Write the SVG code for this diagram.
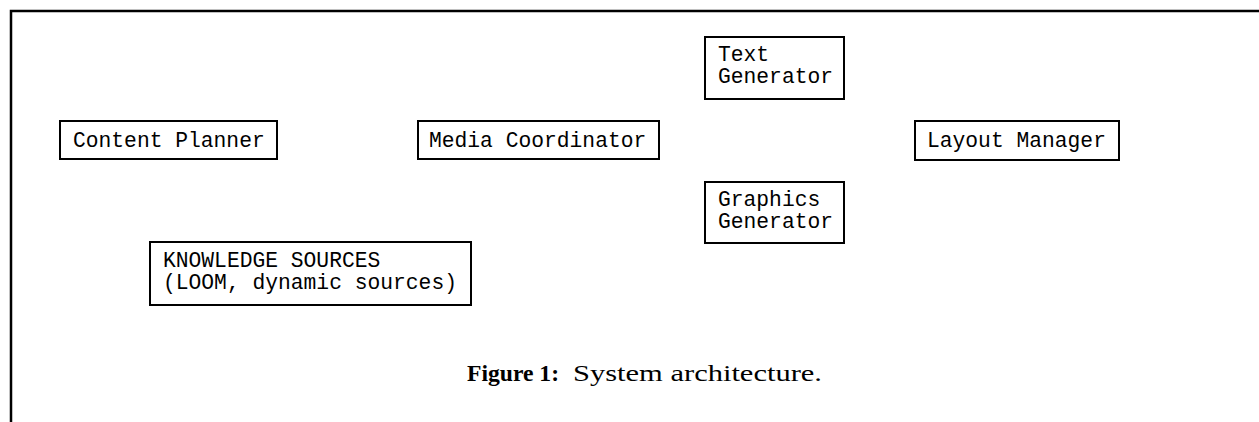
<svg xmlns="http://www.w3.org/2000/svg" width="1259" height="422" viewBox="0 0 1259 422">
<style>
.box{fill:#fff;stroke:#000;stroke-width:2}
.lbl{font-family:"Liberation Mono","Courier New",monospace;font-size:21.3px;fill:#000}
.cap{font-family:"Liberation Serif","Times New Roman",serif;font-size:24px;fill:#000}
.frame{fill:none;stroke:#000;stroke-width:2.5}
</style>
<path class="frame" d="M11,422 V11 H1259"/>
<g id="connectors"></g>
<g id="content-planner"><rect class="box" x="60" y="121" width="217" height="38"/><text class="lbl" x="73" y="147">Content Planner</text></g>
<g id="media-coordinator"><rect class="box" x="418" y="121" width="241" height="38"/><text class="lbl" x="429" y="147">Media Coordinator</text></g>
<g id="text-generator"><rect class="box" x="705" y="37" width="139" height="62"/><text class="lbl" x="718" y="61">Text</text><text class="lbl" x="718" y="83">Generator</text></g>
<g id="graphics-generator"><rect class="box" x="705" y="182" width="139" height="61"/><text class="lbl" x="718" y="206">Graphics</text><text class="lbl" x="718" y="228">Generator</text></g>
<g id="layout-manager"><rect class="box" x="915" y="121" width="204" height="39"/><text class="lbl" x="927" y="147">Layout Manager</text></g>
<g id="knowledge-sources"><rect class="box" x="150" y="242" width="321" height="63"/><text class="lbl" x="163" y="267">KNOWLEDGE SOURCES</text><text class="lbl" x="163" y="289">(LOOM, dynamic sources)</text></g>
<g id="caption"><text class="cap" x="467" y="381" font-weight="bold" textLength="92" lengthAdjust="spacingAndGlyphs">Figure 1:</text><text class="cap" x="573" y="381" textLength="249" lengthAdjust="spacingAndGlyphs">System architecture.</text></g>
</svg>
